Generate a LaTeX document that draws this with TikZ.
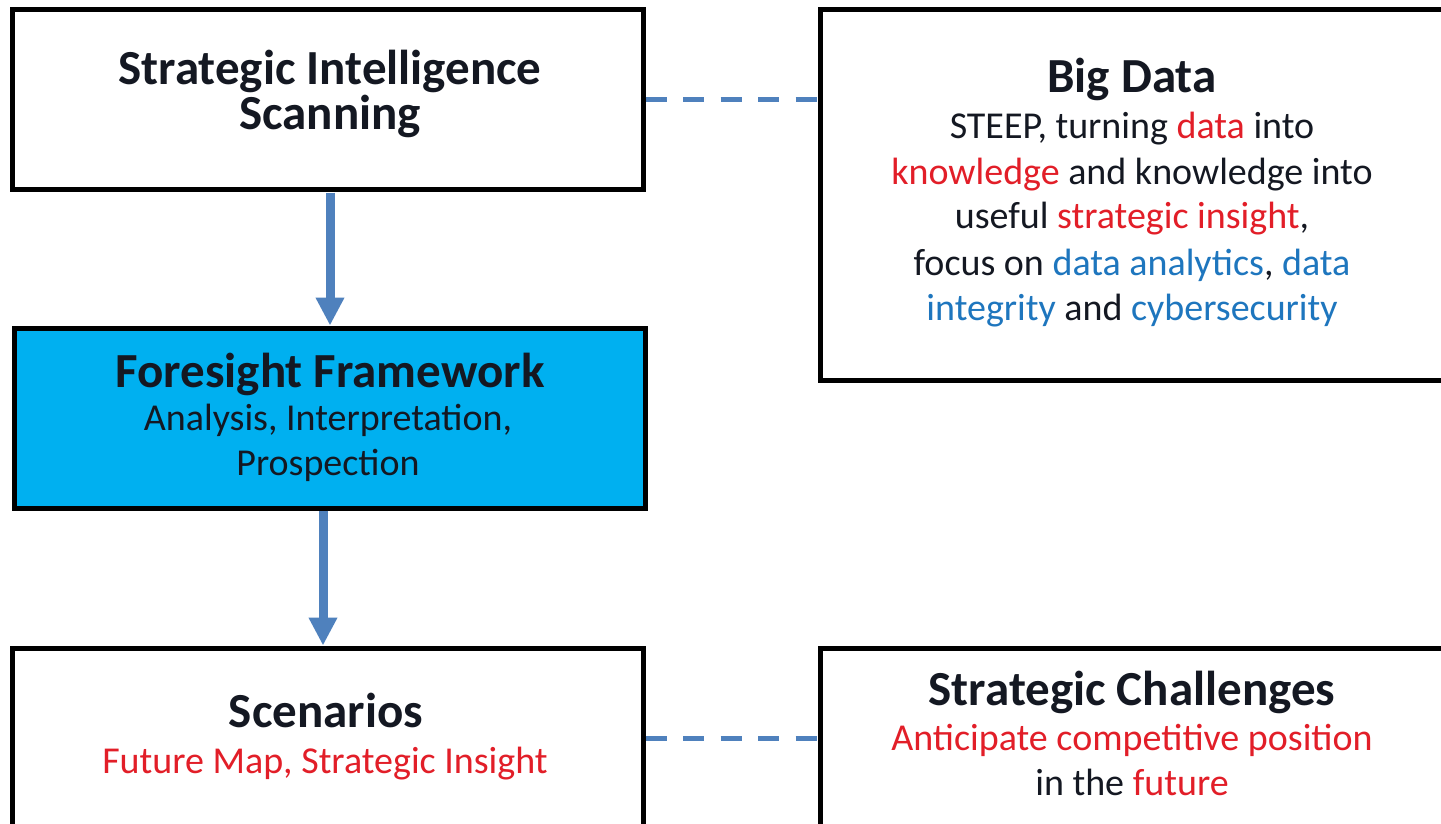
\documentclass[tikz,border=0pt]{standalone}
\usepackage{fontspec}
\setmainfont{Carlito}
\usetikzlibrary{arrows.meta}
\definecolor{ink}{RGB}{20,24,34}
\definecolor{hred}{RGB}{226,30,40}
\definecolor{hblue}{RGB}{30,118,190}
\definecolor{conn}{RGB}{79,129,189}
\definecolor{cyanfill}{RGB}{0,176,240}
\begin{document}
\begin{tikzpicture}[x=1pt,y=-1pt,
  boxst/.style={draw=black, line width=5pt, rectangle, inner sep=0pt},
  ttl/.style={font=\fontsize{49}{45}\selectfont\bfseries, text=ink, anchor=base, inner sep=0pt},
  bod/.style={font=\fontsize{38}{45}\selectfont, text=ink, anchor=base, inner sep=0pt},
  arr/.style={draw=conn, line width=9pt, -{Triangle[width=27pt,length=28pt]}},
  dsh/.style={draw=conn, line width=5pt, dash pattern=on 21pt off 16.5pt}]
\clip (0,0) rectangle (1441,824);
\fill[white] (0,0) rectangle (1441,824);
% boxes
\node[boxst, minimum width=631pt, minimum height=180pt] (b1) at (327.5,100) {};
\node[boxst, fill=cyanfill, minimum width=631pt, minimum height=180pt] (b2) at (329.5,418) {};
\node[boxst, minimum width=631pt, minimum height=192pt] (b3) at (327.5,744) {};
\node[boxst, minimum width=640pt, minimum height=370pt] (b4) at (1140,195) {};
\node[boxst, minimum width=640pt, minimum height=192pt] (b5) at (1140,744) {};
% connectors
\draw[arr] ([xshift=2.5pt]b1.south) -- ([xshift=0.5pt]b2.north);
\draw[arr] ([xshift=-6.5pt]b2.south) -- ([xshift=-4.5pt]b3.north);
\draw[dsh] (b1.east) -- (b1.east -| b4.west);
\draw[dsh] ([yshift=6pt]b3.east) -- ([yshift=6pt]b3.east -| b5.west);
% texts
\node[ttl] (t1a) at (330,85) {Strategic Intelligence};
\node[ttl] (t1b) at (330,130) {Scanning};
\node[ttl] (t2a) at (330,387) {Foresight Framework};
\node[bod] (t2b) at (328,430) {Analysis, Interpretation,};
\node[bod] (t2c) at (328,475) {Prospection};
\node[ttl] (t3a) at (326,727) {Scenarios};
\node[bod, text=hred] (t3b) at (325,773) {Future Map, Strategic Insight};
\node[ttl] (t4a) at (1132,93) {Big Data};
\node[bod] (t4b) at (1132,139) {STEEP, turning \textcolor{hred}{data} into};
\node[bod] (t4c) at (1132,185) {\textcolor{hred}{knowledge} and knowledge into};
\node[bod] (t4d) at (1132,229) {useful \textcolor{hred}{strategic insight},};
\node[bod] (t4e) at (1132,275) {focus on \textcolor{hblue}{data analytics}, \textcolor{hblue}{data}};
\node[bod] (t4f) at (1132,320) {\textcolor{hblue}{integrity} and \textcolor{hblue}{cybersecurity}};
\node[ttl] (t5a) at (1132,705) {Strategic Challenges};
\node[bod, text=hred] (t5b) at (1132,750) {Anticipate competitive position};
\node[bod] (t5c) at (1132,795) {in the \textcolor{hred}{future}};
\end{tikzpicture}
\end{document}
